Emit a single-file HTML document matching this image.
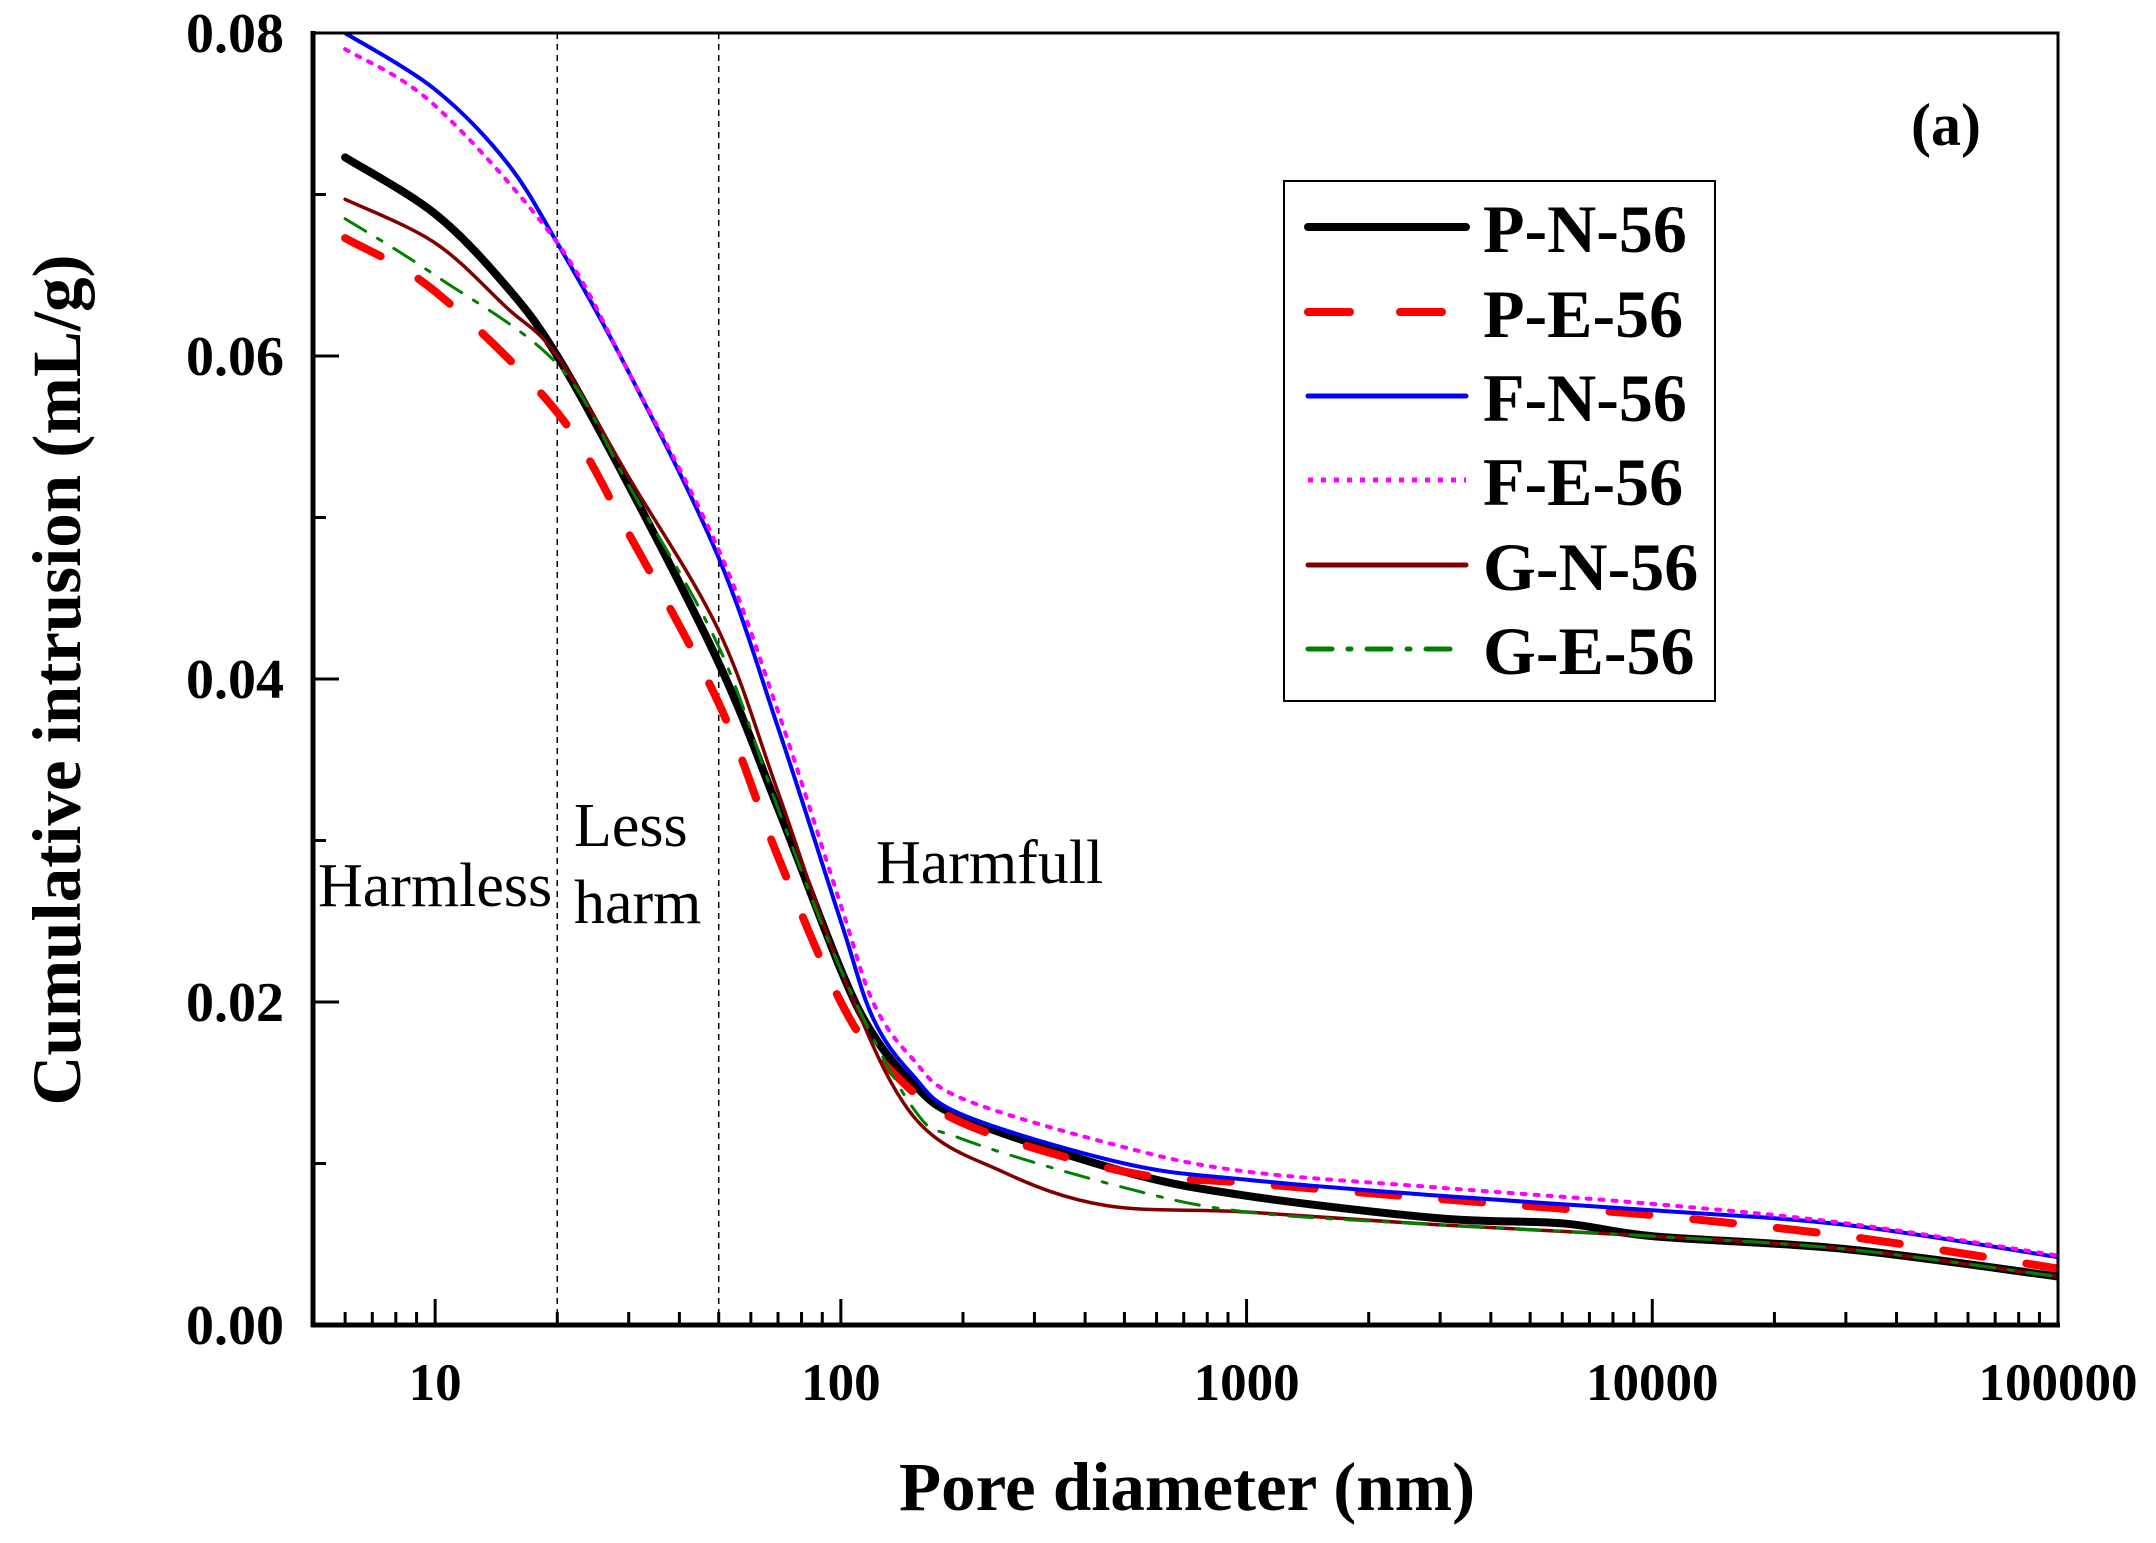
<!DOCTYPE html>
<html><head><meta charset="utf-8"><style>
html,body{margin:0;padding:0;background:#fff;}
svg{display:block;font-family:"Liberation Serif",serif;}
</style></head><body>
<svg id="chart" width="2156" height="1543" viewBox="0 0 2156 1543" xmlns="http://www.w3.org/2000/svg">
<rect width="2156" height="1543" fill="#fff"/>
<g id="plot"></g>
</svg>
<script>
const seriesNames = ["P-N-56","P-E-56","F-N-56","F-E-56","G-N-56","G-E-56"];
const xPN = [6,10,15,20,30,50,70,100,120,150,200,500,1000,3000,6000,10000,30000,100000];
const yPN = [0.0723,0.0688,0.0643,0.060,0.052,0.041,0.032,0.022,0.018,0.015,0.0128,0.0095,0.008,0.0066,0.0063,0.0055,0.0047,0.003];
const xPE = [6,10,20,30,50,70,100,130,200,500,1000,3000,6000,10000,30000,100000];
const yPE = [0.0673,0.064,0.0565,0.049,0.0385,0.029,0.020,0.016,0.0125,0.0095,0.0088,0.0078,0.0072,0.0068,0.0055,0.0035];
const xFN = [6,10,15,20,30,50,70,100,120,150,200,500,1000,3000,10000,30000,100000];
const yFN = [0.080,0.0765,0.072,0.067,0.059,0.0475,0.037,0.025,0.019,0.0155,0.013,0.010,0.009,0.008,0.0071,0.0062,0.0042];
const xFE = [6,10,20,30,50,70,100,120,150,200,500,1000,3000,10000,30000,100000];
const yFE = [0.079,0.0755,0.067,0.059,0.048,0.038,0.026,0.020,0.0165,0.014,0.011,0.0095,0.0085,0.0075,0.0063,0.0043];
const xGN = [6,10,15,20,30,50,70,100,150,250,450,1000,3000,10000,30000,100000];
const yGN = [0.0697,0.067,0.063,0.060,0.0525,0.043,0.033,0.022,0.013,0.0095,0.0074,0.007,0.0062,0.0055,0.0047,0.003];
const xGE = [6,10,20,30,50,70,100,150,200,500,1000,3000,10000,30000,100000];
const yGE = [0.0685,0.065,0.0595,0.052,0.042,0.032,0.022,0.0135,0.0115,0.0085,0.007,0.0062,0.0055,0.0047,0.003];
const xTickLabels = ["10","100","1000","10000","100000"];
const xTickValues = [10,100,1000,10000,100000];
const yTickLabels = ["0.00","0.02","0.04","0.06","0.08"];
const yTickValues = [0,0.02,0.04,0.06,0.08];
const boundaries = [20,50];

const L=313,R=2058,T=33,B=1325, XMIN=5, XMAX=100000, YMIN=0, YMAX=0.08;
const xs = v => L + (Math.log10(v)-Math.log10(XMIN))/(Math.log10(XMAX)-Math.log10(XMIN))*(R-L);
const ys = v => B - (v-YMIN)/(YMAX-YMIN)*(B-T);
const NS="http://www.w3.org/2000/svg";
const g=document.getElementById('plot');
function mk(tag,attrs,parent){const e=document.createElementNS(NS,tag);for(const k in attrs)e.setAttribute(k,attrs[k]);(parent||g).appendChild(e);return e;}

const defs=mk('defs',{});
const cp=mk('clipPath',{id:'clip'},defs);
mk('rect',{x:L,y:T,width:R-L,height:B-T},cp);

boundaries.forEach(b=>{
  const l=mk('line',{x1:xs(b),x2:xs(b),y1:T,y2:B,stroke:'#000','stroke-width':1.5,'stroke-dasharray':'6,5'});
  
  
});

const styles=[
 {x:xPN,y:yPN,c:'#000',w:8,d:''},
 {x:xPE,y:yPE,c:'#ff0000',w:8,d:'40,44'},
 {x:xFN,y:yFN,c:'#0000ff',w:4,d:''},
 {x:xFE,y:yFE,c:'#ff00ff',w:4,d:'4,9'},
 {x:xGN,y:yGN,c:'#800000',w:3.5,d:''},
 {x:xGE,y:yGE,c:'#008000',w:3,d:'24,14,5,14'}
];
function smoothPath(pts){
  let d='M'+pts[0][0]+','+pts[0][1];
  for(let i=0;i<pts.length-1;i++){
    const p0=pts[i-1]||pts[i],p1=pts[i],p2=pts[i+1],p3=pts[i+2]||p2;
    const c1=[p1[0]+(p2[0]-p0[0])/6,p1[1]+(p2[1]-p0[1])/6];
    const c2=[p2[0]-(p3[0]-p1[0])/6,p2[1]-(p3[1]-p1[1])/6];
    d+=' C'+c1[0].toFixed(1)+','+c1[1].toFixed(1)+' '+c2[0].toFixed(1)+','+c2[1].toFixed(1)+' '+p2[0].toFixed(1)+','+p2[1].toFixed(1);
  }
  return d;
}
const sg=mk('g',{'clip-path':'url(#clip)'});
styles.forEach((s,i)=>{
  const pts=s.x.map((xv,j)=>[xs(xv),ys(s.y[j])]);
  const p=mk('path',{d:smoothPath(pts),fill:'none',stroke:s.c,'stroke-width':s.w,'stroke-dasharray':s.d,'stroke-linecap':'round','stroke-linejoin':'round'},sg);
  
  
});

const fr=mk('rect',{x:L,y:T,width:R-L,height:B-T,fill:'none',stroke:'#000','stroke-width':3});


const xa=mk('line',{x1:L-2,x2:R+2,y1:B,y2:B,stroke:'#000','stroke-width':5});


const ya=mk('line',{x1:L,x2:L,y1:T-2,y2:B+2,stroke:'#000','stroke-width':5});



for(let e=0;e<=5;e++){for(let m=1;m<=9;m++){const v=m*Math.pow(10,e);if(v<XMIN||v>XMAX)continue;
  const len=(m===1)?26:13;
  mk('line',{x1:xs(v),x2:xs(v),y1:B,y2:B-len,stroke:'#000','stroke-width':3});}}
xTickValues.forEach((v,i)=>{
  const t=mk('text',{x:xs(v),y:1400,'text-anchor':'middle','font-size':53,'font-weight':'bold'});
  t.textContent=xTickLabels[i];
  
  
});
for(let v=0;v<=0.0801;v+=0.01){const major=Math.round(v*100)%2===0;
  mk('line',{x1:L,x2:L+(major?26:13),y1:ys(v),y2:ys(v),stroke:'#000','stroke-width':3});}
yTickValues.forEach((v,i)=>{
  const t=mk('text',{x:284,y:ys(v)+19,'text-anchor':'end','font-size':56,'font-weight':'bold'});
  t.textContent=yTickLabels[i];
  
  
});
</script>
<svg style="position:absolute;left:0;top:0" width="2156" height="1543" xmlns="http://www.w3.org/2000/svg" font-family="Liberation Serif, serif">
<text x="1187" y="1510" text-anchor="middle" font-size="69" font-weight="bold">Pore diameter (nm)</text>
<text transform="translate(80,680) rotate(-90)" text-anchor="middle" font-size="69" font-weight="bold">Cumulative intrusion (mL/g)</text>
<text x="1946" y="145" text-anchor="middle" font-size="60" font-weight="bold">(a)</text>
<text x="318" y="906" font-size="62">Harmless</text>
<text x="574" y="846" font-size="62">Less</text>
<text x="574" y="923" font-size="62">harm</text>
<text x="876" y="883" font-size="62">Harmfull</text>
<g>
<rect x="1284" y="181" width="431" height="520" fill="#fff" stroke="#000" stroke-width="2"/>
<line x1="1308" x2="1466" y1="227" y2="227" stroke="#000" stroke-width="8" stroke-linecap="round"/>
<line x1="1308" x2="1446" y1="312" y2="312" stroke="#f00" stroke-width="8" stroke-linecap="round" stroke-dasharray="42,50"/>
<line x1="1308" x2="1466" y1="396" y2="396" stroke="#00f" stroke-width="5" stroke-linecap="round"/>
<line x1="1308" x2="1466" y1="480" y2="480" stroke="#f0f" stroke-width="5" stroke-dasharray="5,8"/>
<line x1="1308" x2="1466" y1="565" y2="565" stroke="#800000" stroke-width="5" stroke-linecap="round"/>
<line x1="1308" x2="1452" y1="649" y2="649" stroke="#008000" stroke-width="5" stroke-linecap="round" stroke-dasharray="24,16,3,16"/>
<g font-size="68" font-weight="bold">
<text x="1483" y="252">P-N-56</text>
<text x="1483" y="337">P-E-56</text>
<text x="1483" y="421">F-N-56</text>
<text x="1483" y="505">F-E-56</text>
<text x="1483" y="590">G-N-56</text>
<text x="1483" y="674">G-E-56</text>
</g>
</g>
</svg>
</body></html>
